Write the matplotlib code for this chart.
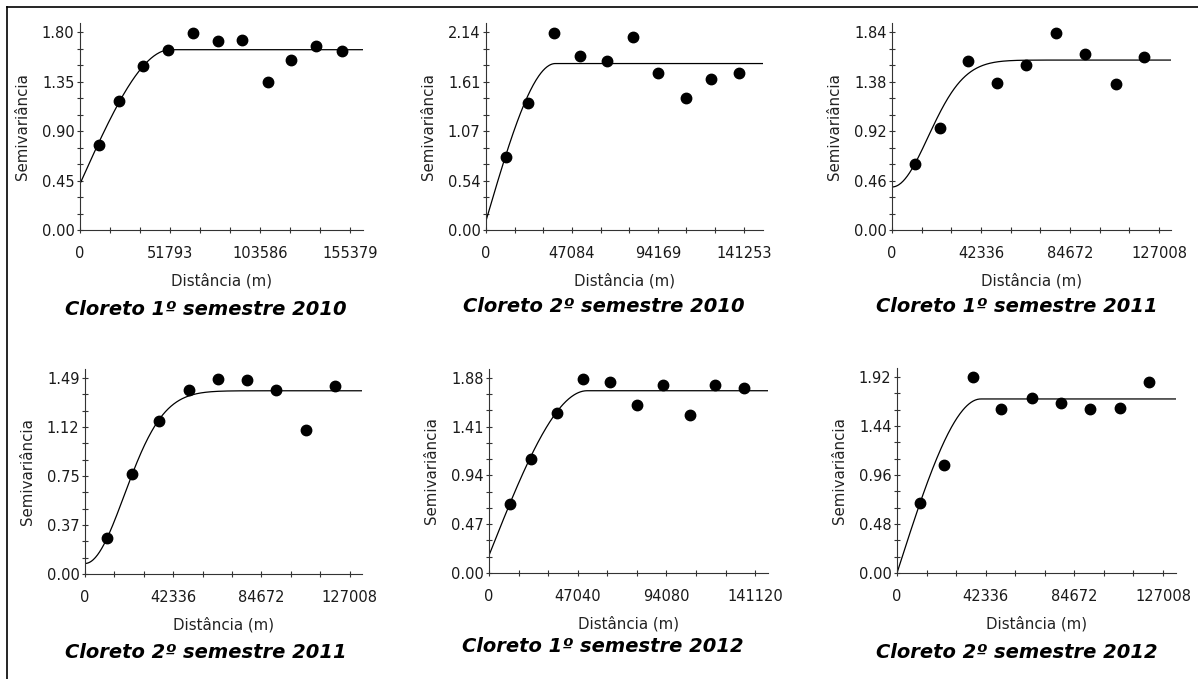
import numpy as np
import matplotlib.pyplot as plt
from matplotlib.ticker import FixedLocator, MultipleLocator

plt.rcParams['font.family'] = ['DejaVu Sans']

# semivariogramas experimentais (lag em m, semivariância)
lag_1s2010 = [10900, 22500, 36500, 50800, 64800, 79500, 93300, 107900, 121400, 136000, 150500]
gam_1s2010 = [0.771, 1.169, 1.491, 1.639, 1.788, 1.715, 1.724, 1.345, 1.548, 1.670, 1.630]

lag_2s2010 = [10950, 22800, 37200, 51500, 66100, 80700, 94350, 109500, 123550, 138500]
gam_2s2010 = [0.794, 1.368, 2.129, 1.877, 1.830, 2.082, 1.703, 1.429, 1.638, 1.696]

lag_1s2011 = [10800, 22800, 36150, 50100, 63900, 78150, 91650, 106400, 119700]
gam_1s2011 = [0.617, 0.946, 1.570, 1.371, 1.533, 1.831, 1.638, 1.359, 1.607]

lag_2s2011 = [10550, 22350, 35600, 49700, 63900, 77950, 91700, 106250, 120000]
gam_2s2011 = [0.270, 0.758, 1.165, 1.401, 1.485, 1.475, 1.396, 1.096, 1.426]

lag_1s2012 = [11000, 22150, 36300, 49800, 63950, 78300, 92300, 106500, 119950, 135000]
gam_1s2012 = [0.664, 1.100, 1.541, 1.870, 1.845, 1.616, 1.815, 1.525, 1.815, 1.783]

lag_2s2012 = [11150, 22600, 36300, 49800, 64450, 78450, 92300, 106300, 120150]
gam_2s2012 = [0.687, 1.057, 1.917, 1.606, 1.718, 1.666, 1.606, 1.613, 1.870]

# modelos ajustados: tipo, efeito pepita, patamar, alcance
mod_1s2010 = ('esf', 0.42, 1.64, 52000)
mod_2s2010 = ('esf', 0.10, 1.80, 38000)
mod_1s2011 = ('gau', 0.40, 1.58, 42000)
mod_2s2011 = ('gau', 0.08, 1.393, 46000)
mod_1s2012 = ('esf', 0.17, 1.757, 52000)
mod_2s2012 = ('esf', 0.00, 1.705, 40000)

# rótulos dos eixos
xt_1s2010 = ['0', '51793', '103586', '155379']
xt_2s2010 = ['0', '47084', '94169', '141253']
xt_1s2011 = ['0', '42336', '84672', '127008']
xt_2s2011 = ['0', '42336', '84672', '127008']
xt_1s2012 = ['0', '47040', '94080', '141120']
xt_2s2012 = ['0', '42336', '84672', '127008']

yt_1s2010 = ['0.00', '0.45', '0.90', '1.35', '1.80']
yt_2s2010 = ['0.00', '0.54', '1.07', '1.61', '2.14']
yt_1s2011 = ['0.00', '0.46', '0.92', '1.38', '1.84']
yt_2s2011 = ['0.00', '0.37', '0.75', '1.12', '1.49']
yt_1s2012 = ['0.00', '0.47', '0.94', '1.41', '1.88']
yt_2s2012 = ['0.00', '0.48', '0.96', '1.44', '1.92']

titulos = ['Cloreto 1º semestre 2010', 'Cloreto 2º semestre 2010', 'Cloreto 1º semestre 2011',
           'Cloreto 2º semestre 2011', 'Cloreto 1º semestre 2012', 'Cloreto 2º semestre 2012']

W, H = 1198, 679


def modelo(tipo, c0, sill, a, h):
    c = sill - c0
    if tipo == 'esf':
        r = np.minimum(h / a, 1.0)
        return c0 + c * (1.5 * r - 0.5 * r ** 3)
    return c0 + c * (1 - np.exp(-3 * (h / a) ** 2))


paineis = [
    (lag_1s2010, gam_1s2010, mod_1s2010, xt_1s2010, yt_1s2010, (80, 23, 363, 230), 162800),
    (lag_2s2010, gam_2s2010, mod_2s2010, xt_2s2010, yt_2s2010, (486, 23, 763, 230), 151800),
    (lag_1s2011, gam_1s2011, mod_1s2011, xt_1s2011, yt_1s2011, (892, 23, 1171, 230), 132700),
    (lag_2s2011, gam_2s2011, mod_2s2011, xt_2s2011, yt_2s2011, (85, 369, 362, 574), 132900),
    (lag_1s2012, gam_1s2012, mod_1s2012, xt_1s2012, yt_1s2012, (489, 369, 768, 573), 147900),
    (lag_2s2012, gam_2s2012, mod_2s2012, xt_2s2012, yt_2s2012, (897, 368, 1176, 573), 133200),
]
pos_titulo = [(206, 310), (604, 307), (1017, 307), (206, 653), (603, 646), (1017, 652)]

fig = plt.figure(figsize=(W / 100, H / 100), dpi=100)

for i, (lag, gam, mod, xt, yt, box, xmax) in enumerate(paineis):
    x0, y0, x1, y1 = box
    ax = fig.add_axes([x0 / W, 1 - y1 / H, (x1 - x0) / W, (y1 - y0) / H])

    xtv = [float(v) for v in xt]
    ytv = list(np.linspace(0, float(yt[-1]), 5))

    h = np.linspace(0, xmax, 400)
    ax.plot(h, modelo(*mod, h), color='black', lw=0.9)
    ax.plot(lag, gam, 'o', color='black', ms=7.5)

    ax.set_xlim(0, xmax)
    ax.set_ylim(0, ytv[-1] * 1.046)
    ax.xaxis.set_major_locator(FixedLocator(xtv))
    ax.yaxis.set_major_locator(FixedLocator(ytv))
    ax.set_xticklabels(xt)
    ax.set_yticklabels(yt)
    ax.xaxis.set_minor_locator(MultipleLocator(xtv[1] / 3))
    ax.yaxis.set_minor_locator(MultipleLocator(ytv[1] / 3))
    ax.tick_params(which='both', direction='inout', length=5, width=0.8, color='#333333',
                   labelsize=10.5, labelcolor='#1a1a1a')
    ax.tick_params(axis='x', pad=9)
    ax.tick_params(axis='y', pad=1.5)

    ax.spines['top'].set_visible(False)
    ax.spines['right'].set_visible(False)
    ax.spines['left'].set_color('#333333')
    ax.spines['bottom'].set_color('#333333')
    ax.patch.set_alpha(0)

    ax.set_xlabel('Distância (m)', fontsize=10.8, color='#222222', labelpad=9)
    ax.set_ylabel('Semivariância', fontsize=10.8, color='#222222', labelpad=8)

    tx, ty = pos_titulo[i]
    fig.text(tx / W, 1 - ty / H, titulos[i], ha='center', va='center',
             fontsize=14, fontweight='bold', fontstyle='italic')

# moldura
fig.add_artist(plt.Line2D([7 / W, 1], [1 - 7 / H, 1 - 7 / H], color='black', lw=1.2))
fig.add_artist(plt.Line2D([7 / W, 7 / W], [0, 1 - 7 / H], color='black', lw=1.2))

fig.savefig('out.png', dpi=100)
